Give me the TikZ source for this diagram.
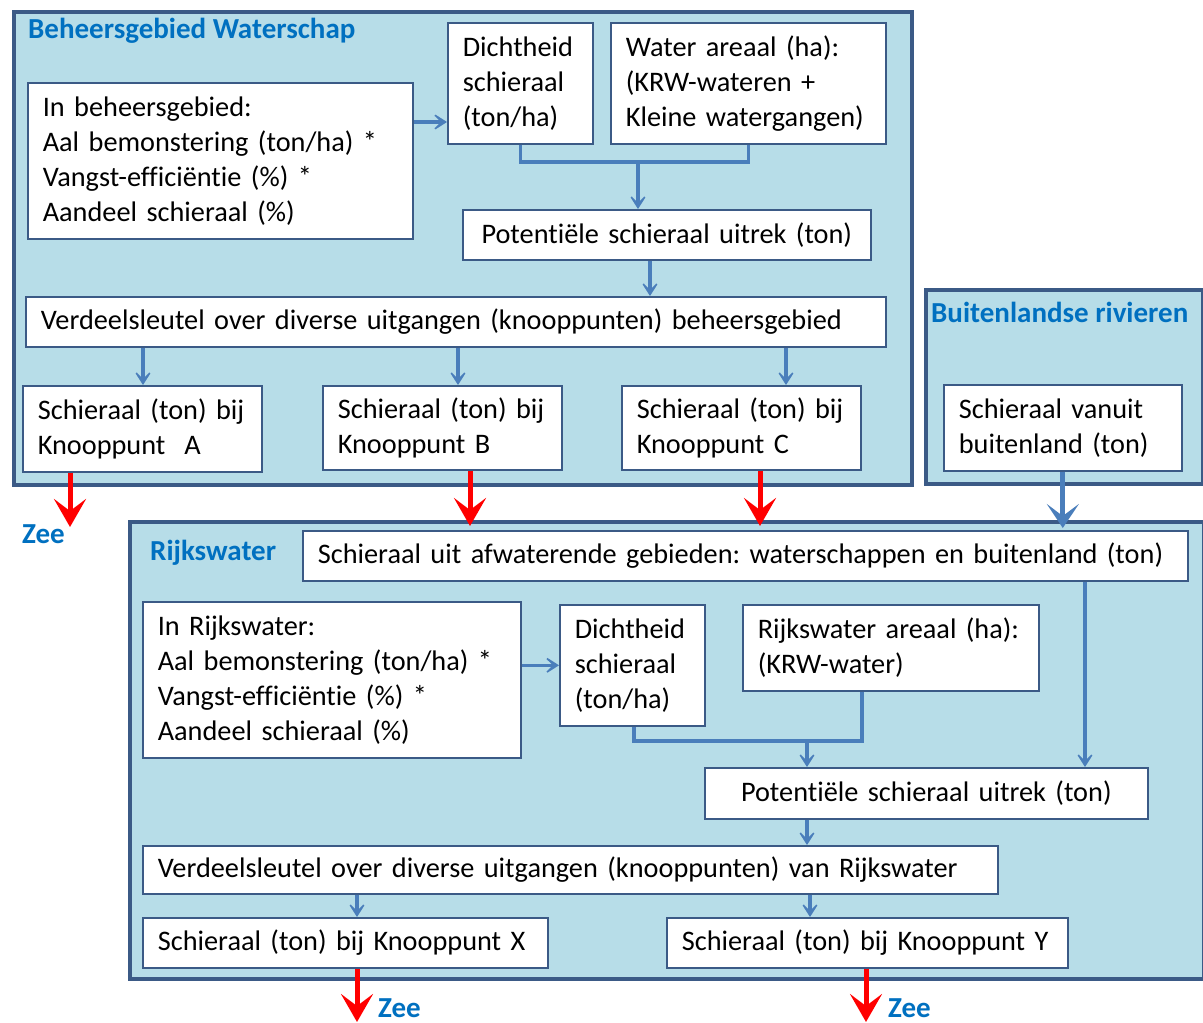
\documentclass[tikz,border=0pt]{standalone}
\usepackage{fontspec}
\setmainfont{Carlito}[Ligatures=NoCommon]
\usetikzlibrary{arrows.meta,calc}
\definecolor{bgblue}{HTML}{B7DDE8}
\definecolor{framec}{HTML}{3B5A86}
\definecolor{conn}{HTML}{4A7EBB}
\definecolor{titlec}{HTML}{0070C0}
\frenchspacing
\begin{document}
\begin{tikzpicture}[x=1pt,y=-1pt,
  group/.style={draw=framec,line width=4pt,fill=bgblue,anchor=north west,inner sep=0pt},
  box/.style={draw=framec,line width=1.6pt,fill=white,anchor=north west,inner xsep=15pt,inner ysep=0pt,
    align=left,font=\fontsize{28.3}{35}\selectfont},
  cbox/.style={box,align=center},
  gtitle/.style={anchor=west,inner sep=0pt,text=titlec,font=\fontsize{29}{32}\selectfont\bfseries},
  cline/.style={draw=conn,line width=3.5pt},
  carrow/.style={cline,-{Stealth[length=18pt,width=23pt,inset=12pt]}},
  rarrow/.style={draw=red,line width=5pt,-{Stealth[length=28pt,width=32pt,inset=12pt]}},
  barrow/.style={draw=conn,line width=5pt,-{Stealth[length=24pt,width=32pt,inset=12pt]}}
]
\useasboundingbox (0,0) rectangle (1203,1023);
\fill[white] (0,0) rectangle (1203,1023);

% groups
\node[group,minimum width=898pt,minimum height=473pt] (gw) at (12,10) {};
\node[group,minimum width=277pt,minimum height=194pt] (gb) at (924,288) {};
\node[group,minimum width=1074pt,minimum height=457pt] (gr) at (128,520) {};

\node[gtitle] (tw) at (28,31) {Beheersgebied Waterschap};
\node[gtitle] (tb) at (931,312) {Buitenlandse rivieren};
\node[gtitle] (tr) at (150,553) {Rijkswater};

% Waterschap boxes
\node[box,minimum width=385pt,minimum height=156pt,text width=355pt] (inb) at (27,82)
  {In beheersgebied:\\Aal bemonstering (ton/ha) *\\Vangst-efficiëntie (\%) *\\Aandeel schieraal (\%)};
\node[box,minimum width=145pt,minimum height=121pt,text width=115pt] (d1) at (447,22)
  {Dichtheid\\schieraal\\(ton/ha)};
\node[box,minimum width=275pt,minimum height=121pt,text width=245pt] (wa) at (610,22)
  {Water areaal (ha):\\(KRW-wateren +\\Kleine watergangen)};
\node[cbox,minimum width=408pt,minimum height=50pt,text width=378pt] (pot) at (462,209)
  {Potentiële schieraal uitrek (ton)};
\node[box,minimum width=860pt,minimum height=50pt,text width=830pt] (vs) at (25,296)
  {Verdeelsleutel over diverse uitgangen (knooppunten) beheersgebied};
\node[box,minimum width=239pt,minimum height=86pt,text width=209pt] (kA) at (22,385)
  {Schieraal (ton) bij\\Knooppunt~~A};
\node[box,minimum width=239pt,minimum height=84pt,text width=209pt] (kB) at (322,385)
  {Schieraal (ton) bij\\Knooppunt B};
\node[box,minimum width=239pt,minimum height=84pt,text width=209pt] (kC) at (621,385)
  {Schieraal (ton) bij\\Knooppunt C};

% Buitenland
\node[box,minimum width=238pt,minimum height=86pt,text width=208pt] (bl) at (943,384)
  {Schieraal vanuit\\buitenland (ton)};

% Rijkswater boxes
\node[box,minimum width=885pt,minimum height=50pt,text width=855pt] (su) at (302,530)
  {Schieraal uit afwaterende gebieden: waterschappen en buitenland (ton)};
\node[box,minimum width=378pt,minimum height=156pt,text width=348pt] (inr) at (142,601)
  {In Rijkswater:\\Aal bemonstering (ton/ha) *\\Vangst-efficiëntie (\%) *\\Aandeel schieraal (\%)};
\node[box,minimum width=145pt,minimum height=121pt,text width=115pt] (d2) at (559,604)
  {Dichtheid\\schieraal\\(ton/ha)};
\node[box,minimum width=296pt,minimum height=86pt,text width=266pt] (ra) at (742,604)
  {Rijkswater areaal (ha):\\(KRW-water)};
\node[cbox,minimum width=443pt,minimum height=51pt,text width=413pt] (pot2) at (704,767)
  {Potentiële schieraal uitrek (ton)};
\node[box,minimum width=855pt,minimum height=48pt,text width=825pt] (vs2) at (142,845)
  {Verdeelsleutel over diverse uitgangen (knooppunten) van Rijkswater};
\node[box,minimum width=405pt,minimum height=50pt,text width=375pt] (kX) at (142,917)
  {Schieraal (ton) bij Knooppunt X};
\node[box,minimum width=401pt,minimum height=50pt,text width=371pt] (kY) at (666,917)
  {Schieraal (ton) bij Knooppunt Y};

% Zee labels
\node[gtitle] (zA) at (22,534) {Zee};
\node[gtitle] (zX) at (378,1008) {Zee};
\node[gtitle] (zY) at (888,1008) {Zee};

% connectors Waterschap
\coordinate (a1) at ($(inb.north east)+(0,40)$);
\draw[carrow] (a1) -- (a1 -| d1.west);
\coordinate (m1) at (638,162);
\draw[cline] (d1.south) -- (d1.south |- m1) -- (wa.south |- m1) -- (wa.south);
\draw[carrow] (m1) -- (m1 |- pot.north);
\draw[carrow] (pot.south -| 650,0) -- (vs.north -| 650,0);
\draw[carrow] (vs.south -| 143,0) -- (kA.north -| 143,0);
\draw[carrow] (vs.south -| 458,0) -- (kB.north -| 458,0);
\draw[carrow] (vs.south -| 786,0) -- (kC.north -| 786,0);

% red arrows
\coordinate (eA) at (70,527);
\draw[rarrow] (kA.south -| eA) -- (eA);
\draw[rarrow] (kB.south -| 470,0) -- ($(su.north -| 470,0)+(0,-4)$);
\draw[rarrow] (kC.south -| 760,0) -- ($(su.north -| 760,0)+(0,-4)$);
\coordinate (eX) at (357,1022);
\coordinate (eY) at (866,1022);
\draw[rarrow] (kX.south -| eX) -- (eX);
\draw[rarrow] (kY.south -| eY) -- (eY);

% buitenland arrow
\draw[barrow] (bl.south) -- ($(su.north -| bl.south)+(0,-2)$);

% connectors Rijkswater
\draw[carrow] (su.south -| 1085,0) -- (pot2.north -| 1085,0);
\draw[carrow] (d2.west -| inr.east) -- (d2.west);
\coordinate (m2) at (807,741);
\draw[cline] (d2.south -| 634,0) -- (634,741) -- (862,741) -- (ra.south -| 862,0);
\draw[carrow] (m2) -- (m2 |- pot2.north);
\draw[carrow] (pot2.south -| 807,0) -- (vs2.north -| 807,0);
\draw[carrow] (vs2.south -| 357,0) -- (kX.north -| 357,0);
\draw[carrow] (vs2.south -| 810,0) -- (kY.north -| 810,0);
\end{tikzpicture}
\end{document}
